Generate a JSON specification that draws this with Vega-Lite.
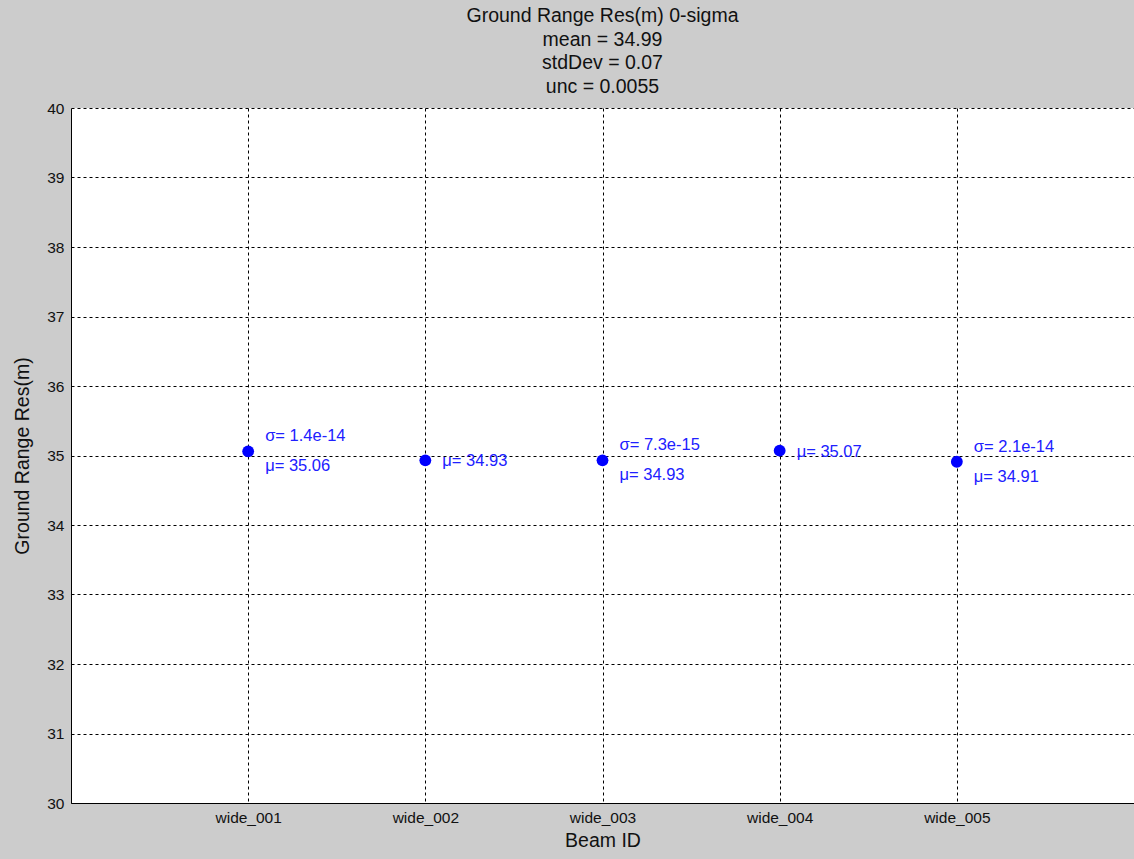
{
  "$schema": "https://vega.github.io/schema/vega-lite/v6.json",
  "width": 1063,
  "height": 695,
  "autosize": {"type": "none"},
  "padding": {"left": 71, "top": 108, "right": 0, "bottom": 56},
  "background": "#cccccc",
  "config": {
    "font": "Liberation Sans",
    "view": {"fill": "white", "stroke": null},
    "axis": {
      "domainColor": "black",
      "domainWidth": 1,
      "gridColor": "black",
      "gridDash": [3, 3],
      "gridOpacity": 1,
      "gridWidth": 1,
      "labelColor": "#111111",
      "labelFontSize": 15.5,
      "labelFont": "Liberation Sans",
      "labelOverlap": false,
      "titleFont": "Liberation Sans",
      "titleFontSize": 19.5,
      "titleFontWeight": "normal",
      "titleColor": "#111111",
      "ticks": false
    }
  },
  "title": {
    "text": ["Ground Range Res(m) 0-sigma", "mean = 34.99", "stdDev = 0.07", "unc = 0.0055"],
    "fontSize": 19.5,
    "fontWeight": "normal",
    "font": "Liberation Sans",
    "color": "#111111",
    "lineHeight": 23.5,
    "anchor": "middle",
    "offset": 4
  },
  "data": {
    "values": [
      {"beam": "wide_001", "value": 35.06, "sigma": "σ= 1.4e-14", "mu": "μ= 35.06"},
      {"beam": "wide_002", "value": 34.93, "sigma": null, "mu": "μ= 34.93"},
      {"beam": "wide_003", "value": 34.93, "sigma": "σ= 7.3e-15", "mu": "μ= 34.93"},
      {"beam": "wide_004", "value": 35.07, "sigma": null, "mu": "μ= 35.07"},
      {"beam": "wide_005", "value": 34.91, "sigma": "σ= 2.1e-14", "mu": "μ= 34.91"}
    ]
  },
  "encoding": {
    "x": {
      "field": "beam",
      "type": "nominal",
      "sort": null,
      "scale": {"type": "point", "padding": 1},
      "axis": {"title": "Beam ID", "labelAngle": 0, "grid": true, "labelPadding": 7, "titlePadding": 6}
    },
    "y": {
      "field": "value",
      "type": "quantitative",
      "scale": {"domain": [30, 40], "nice": false, "zero": false},
      "axis": {"title": "Ground Range Res(m)", "values": [30,31,32,33,34,35,36,37,38,39,40], "grid": true, "labelPadding": 7, "titlePadding": 14}
    }
  },
  "layer": [
    {
      "mark": {"type": "point", "filled": true, "shape": "circle", "size": 140, "color": "#0000ff", "opacity": 1}
    },
    {
      "transform": [{"filter": "datum.sigma != null"}],
      "mark": {"type": "text", "align": "left", "baseline": "middle", "dx": 17, "dy": -15, "fontSize": 16.5, "color": "#2020ff"},
      "encoding": {"text": {"field": "sigma"}}
    },
    {
      "transform": [{"filter": "datum.sigma != null"}],
      "mark": {"type": "text", "align": "left", "baseline": "middle", "dx": 17, "dy": 15, "fontSize": 16.5, "color": "#2020ff"},
      "encoding": {"text": {"field": "mu"}}
    },
    {
      "transform": [{"filter": "datum.sigma == null"}],
      "mark": {"type": "text", "align": "left", "baseline": "middle", "dx": 17, "dy": 1, "fontSize": 16.5, "color": "#2020ff"},
      "encoding": {"text": {"field": "mu"}}
    }
  ]
}
